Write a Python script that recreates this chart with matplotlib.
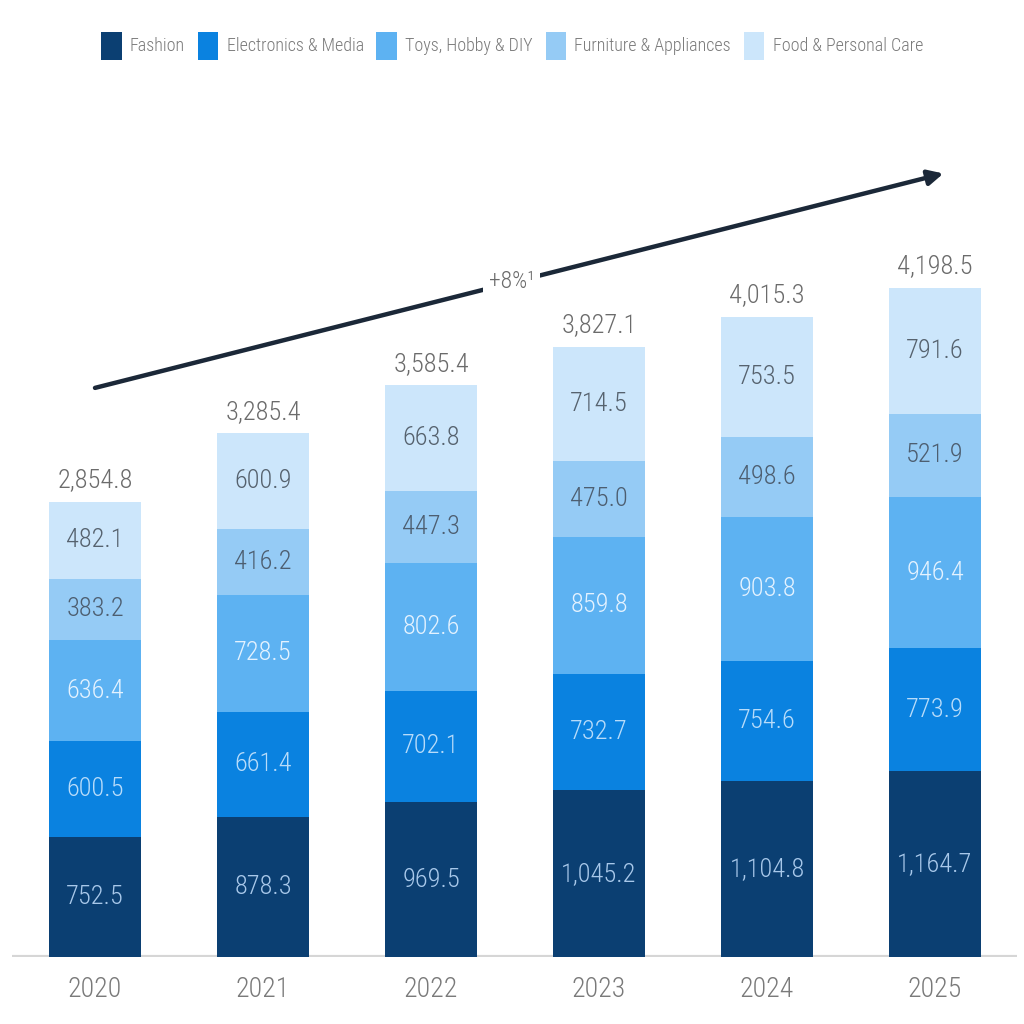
import matplotlib
matplotlib.use("Agg")
import matplotlib.pyplot as plt
from matplotlib import font_manager
import numpy as np

# the reference uses a light condensed face, take the first one that is installed
cands = ['Open Sans Condensed', 'Open Sans Condensed Light', 'Roboto Condensed',
         'Barlow Condensed', 'Asap Condensed']
fams = {}
for f in font_manager.fontManager.ttflist:
    w = f.weight if isinstance(f.weight, int) else font_manager.weight_dict.get(f.weight, 400)
    if f.name in cands and f.style == 'normal' and w <= 350:
        fams.setdefault(f.name, []).append(w)
face, weight = 'DejaVu Sans', 'normal'
for c in cands:
    if c in fams:
        face, weight = c, max(fams[c])
        break
plt.rcParams['font.family'] = [face, 'DejaVu Sans']
plt.rcParams['font.weight'] = weight

years = ['2020', '2021', '2022', '2023', '2024', '2025']
categories = ['Fashion', 'Electronics & Media', 'Toys, Hobby & DIY',
              'Furniture & Appliances', 'Food & Personal Care']
fashion = [752.5, 878.3, 969.5, 1045.2, 1104.8, 1164.7]
electronics = [600.5, 661.4, 702.1, 732.7, 754.6, 773.9]
toys = [636.4, 728.5, 802.6, 859.8, 903.8, 946.4]
furniture = [383.2, 416.2, 447.3, 475.0, 498.6, 521.9]
food = [482.1, 600.9, 663.8, 714.5, 753.5, 791.6]
totals = [2854.8, 3285.4, 3585.4, 3827.1, 4015.3, 4198.5]
growth_label = '+8%\u00b9'

series = [fashion, electronics, toys, furniture, food]
colors = ['#0b3f72', '#0a82e0', '#5db2f2', '#95cbf5', '#cce6fb']
label_colors = ['#a8c8ea', '#b8dcfa', '#e4f2ff', '#4d5e70', '#56626e']

fig = plt.figure(figsize=(10.24, 10.24), dpi=100)
ax = fig.add_axes([12 / 1024, 67 / 1024, 1005 / 1024, 857 / 1024])

x = np.arange(len(years))
bottom = np.zeros(len(years))
for vals, col, lc, name in zip(series, colors, label_colors, categories):
    vals = np.array(vals)
    ax.bar(x, vals, 0.55, bottom=bottom, color=col, label=name, zorder=2)
    for xi, b, v in zip(x, bottom, vals):
        ax.text(xi, b + v / 2, f'{v:,.1f}', ha='center', va='center',
                color=lc, fontsize=19, zorder=3)
    bottom += vals

for xi, t in zip(x, totals):
    ax.text(xi, t + 60, f'{t:,.1f}', ha='center', va='bottom',
            color='#6b6b6b', fontsize=19)

ax.axhline(0, color='#d6d6d6', lw=3, zorder=1)

# growth arrow
ax.annotate('', xy=(5.05, 4915), xytext=(0, 3570),
            arrowprops=dict(arrowstyle='-|>,head_length=0.9,head_width=0.45',
                            color='#1b2838', lw=3.2, shrinkA=0, shrinkB=0))
ax.text(2.48, 4235, growth_label, ha='center', va='center', color='#6b6b6b',
        fontsize=17, bbox=dict(facecolor='white', edgecolor='none', pad=4))

ax.set_xlim(-0.494, 5.488)
ax.set_ylim(0, 5376)
ax.set_xticks(x)
ax.set_xticklabels(years, fontsize=20, color='#7a7a7a')
ax.tick_params(axis='x', length=0, pad=14)
ax.set_yticks([])
for s in ax.spines.values():
    s.set_visible(False)

leg = fig.legend(loc='upper center', bbox_to_anchor=(0.5, 0.985), ncol=5,
                 frameon=False, fontsize=13, handlelength=1.15,
                 handleheight=2.0, handletextpad=0.45, columnspacing=0.7)
for t in leg.get_texts():
    t.set_color('#7a7a7a')

fig.savefig('out.png', dpi=100)
